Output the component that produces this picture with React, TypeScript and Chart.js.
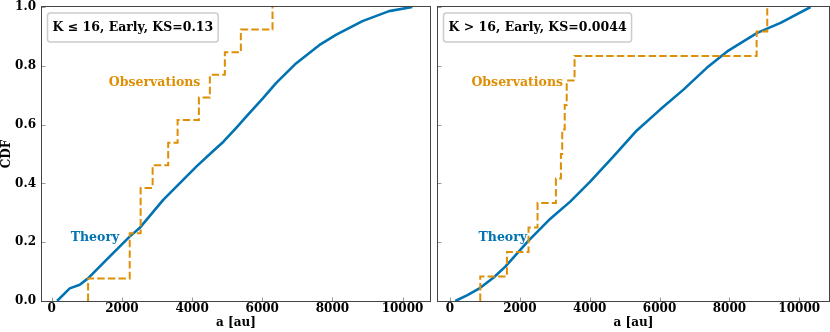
import React, { useEffect, useRef } from 'react';
import { Chart, registerables } from 'chart.js';

Chart.register(...registerables);

// ---------- data ----------
const xTickValues = [0, 2000, 4000, 6000, 8000, 10000];
const yTickValues = [0, 0.2, 0.4, 0.6, 0.8, 1.0];

const theoryLeftA = [151, 512, 797, 1033, 1556, 2219, 2503, 2979, 3177, 3652, 4128, 4601, 4886, 5266, 5550, 6023, 6400, 6962, 7624, 8100, 8857, 9616, 10279];
const theoryLeftCDF = [0, 0.043, 0.055, 0.077, 0.14, 0.219, 0.248, 0.316, 0.344, 0.401, 0.458, 0.51, 0.541, 0.59, 0.628, 0.69, 0.742, 0.808, 0.87, 0.905, 0.952, 0.986, 1.0];
const obsLeftA = [1035, 2222, 2222, 2533, 2533, 2875, 3319, 3587, 4194, 4507, 4934, 5390, 6293];

const theoryRightA = [152, 500, 868, 1250, 1585, 2230, 2874, 3442, 4014, 4682, 5350, 6017, 6685, 7353, 7937, 8797, 9465, 10324];
const theoryRightCDF = [0, 0.02, 0.045, 0.08, 0.117, 0.203, 0.28, 0.338, 0.406, 0.492, 0.58, 0.651, 0.719, 0.793, 0.849, 0.912, 0.946, 1.0];
const obsRightA = [867, 1631, 2249, 2507, 3033, 3176, 3214, 3285, 3342, 3567, 8780, 9084];

const leftXRange = [-279, 10783];
const rightXRange = [-343, 10852];
const boxTexts = ['K \u2264 16, Early, KS=0.13', 'K > 16, Early, KS=0.0044'];
const seriesNames = ['Theory', 'Observations'];
// label anchors in data units [a, cdf]
const leftTheoryLabelAt = [1231, 0.216];
const leftObsLabelAt = [2932, 0.743];
const rightTheoryLabelAt = [1511, 0.215];
const rightObsLabelAt = [1926, 0.743];

// ---------- style ----------
const BLUE = '#0173B2';
const ORANGE = '#DE8F05';
const FAMILY = '"DejaVu Serif", serif';
const FONT = { family: FAMILY, size: 12, weight: 'bold' as const };
const TEXT_SIZE = 12.5;

function stepPoints(a: number[]) {
  const n = a.length;
  const pts: { x: number; y: number }[] = [];
  a.forEach((v, i) => {
    pts.push({ x: v, y: i / n });
    pts.push({ x: v, y: (i + 1) / n });
  });
  return pts;
}

function makeDecor(id: string, boxText: string, theoryAt: number[], obsAt: number[]) {
  return {
    id: 'decor' + id,
    afterDatasetsDraw(chart: any) {
      const { ctx, chartArea } = chart;
      const xs = chart.scales.x;
      const ys = chart.scales.y;
      const { left, right, top, bottom } = chartArea;
      ctx.save();
      // ticks (inward)
      ctx.strokeStyle = '#999999';
      ctx.lineWidth = 1;
      ctx.beginPath();
      xTickValues.forEach((v) => {
        const px = Math.round(xs.getPixelForValue(v)) + 0.5;
        ctx.moveTo(px, bottom);
        ctx.lineTo(px, bottom - 3.5);
      });
      yTickValues.forEach((v) => {
        const py = Math.round(ys.getPixelForValue(v)) + 0.5;
        ctx.moveTo(left, py);
        ctx.lineTo(left + 3.5, py);
      });
      ctx.stroke();
      // frame
      ctx.strokeStyle = '#444444';
      ctx.lineWidth = 1;
      ctx.strokeRect(Math.round(left) - 0.5, Math.round(top) - 0.5, Math.round(right - left) + 1, Math.round(bottom - top) + 1);

      // annotation box
      ctx.font = `bold ${TEXT_SIZE}px ${FAMILY}`;
      const tw = ctx.measureText(boxText).width;
      const bx = left + 5.5;
      const by = top + 6;
      const bw = tw + 10;
      const bh = 29;
      ctx.beginPath();
      ctx.roundRect(bx, by, bw, bh, 3);
      ctx.fillStyle = 'rgba(255,255,255,0.9)';
      ctx.fill();
      ctx.strokeStyle = '#cccccc';
      ctx.lineWidth = 1.5;
      ctx.stroke();
      ctx.fillStyle = '#000000';
      ctx.textAlign = 'left';
      ctx.textBaseline = 'middle';
      ctx.fillText(boxText, bx + 5, by + bh / 2 + 0.5);

      // series labels
      ctx.textAlign = 'center';
      ctx.fillStyle = BLUE;
      ctx.fillText(seriesNames[0], xs.getPixelForValue(theoryAt[0]), ys.getPixelForValue(theoryAt[1]));
      ctx.fillStyle = ORANGE;
      ctx.fillText(seriesNames[1], xs.getPixelForValue(obsAt[0]), ys.getPixelForValue(obsAt[1]));
      ctx.restore();
    },
  };
}

type PanelProps = {
  id: string;
  left: number;
  width: number;
  theoryA: number[];
  theoryCDF: number[];
  obsA: number[];
  xRange: number[];
  boxText: string;
  theoryAt: number[];
  obsAt: number[];
  showY: boolean;
  yAxisWidth: number;
  padRight: number;
};

function Panel(p: PanelProps) {
  const ref = useRef<HTMLCanvasElement>(null);
  useEffect(() => {
    const theoryPts = p.theoryA.map((a, i) => ({ x: a, y: p.theoryCDF[i] }));
    const chart = new Chart(ref.current!, {
      type: 'line',
      data: {
        datasets: [
          {
            label: seriesNames[1],
            data: stepPoints(p.obsA),
            borderColor: ORANGE,
            borderWidth: 2,
            borderDash: [7.4, 3.2],
            pointRadius: 0,
            tension: 0,
            fill: false,
          },
          {
            label: seriesNames[0],
            data: theoryPts,
            borderColor: BLUE,
            borderWidth: 2.6,
            pointRadius: 0,
            tension: 0,
            fill: false,
            borderJoinStyle: 'round',
          },
        ],
      },
      options: {
        animation: false,
        responsive: false,
        maintainAspectRatio: false,
        events: [],
        layout: { padding: { top: 7, right: p.padRight, left: 0, bottom: 0 } },
        plugins: { legend: { display: false }, tooltip: { enabled: false } },
        scales: {
          x: {
            type: 'linear',
            position: 'bottom',
            min: p.xRange[0],
            max: p.xRange[1],
            afterBuildTicks: (s: any) => {
              s.ticks = xTickValues.map((v) => ({ value: v }));
            },
            afterFit: (s: any) => {
              s.height = 31;
              s.paddingLeft = 0;
              s.paddingRight = 0;
            },
            grid: { display: false, drawTicks: false },
            border: { display: false },
            ticks: {
              font: FONT,
              color: '#000000',
              padding: 1,
              maxRotation: 0,
              autoSkip: false,
              callback: (v: any) => String(v),
            },
            title: {
              display: true,
              text: 'a [au]',
              font: FONT,
              color: '#000000',
              padding: { top: 0, bottom: 2 },
            },
          },
          y: {
            type: 'linear',
            min: 0,
            max: 1,
            afterBuildTicks: (s: any) => {
              s.ticks = yTickValues.map((v) => ({ value: v }));
            },
            afterFit: (s: any) => {
              s.width = p.yAxisWidth;
              s.paddingTop = 0;
              s.paddingBottom = 0;
            },
            grid: { display: false, drawTicks: false },
            border: { display: false },
            ticks: {
              display: p.showY,
              font: FONT,
              color: '#000000',
              padding: 6,
              autoSkip: false,
              callback: (v: any) => Number(v).toFixed(1),
            },
            title: {
              display: p.showY,
              text: 'CDF',
              font: FONT,
              color: '#000000',
              padding: { top: 0, bottom: 0 },
            },
          },
        },
      },
      plugins: [makeDecor(p.id, p.boxText, p.theoryAt, p.obsAt)],
    } as any);
    return () => chart.destroy();
  }, []);
  return (
    <canvas
      ref={ref}
      width={p.width}
      height={332}
      style={{ position: 'absolute', left: p.left, top: 0, width: p.width, height: 332 }}
    />
  );
}

export default function App() {
  return (
    <div style={{ position: 'fixed', left: 0, top: 0, width: 830, height: 332, background: '#ffffff', overflow: 'hidden' }}>
      <Panel
        id="L"
        left={0}
        width={435}
        theoryA={theoryLeftA}
        theoryCDF={theoryLeftCDF}
        obsA={obsLeftA}
        xRange={leftXRange}
        boxText={boxTexts[0]}
        theoryAt={leftTheoryLabelAt}
        obsAt={leftObsLabelAt}
        showY={true}
        yAxisWidth={42}
        padRight={5}
      />
      <Panel
        id="R"
        left={435}
        width={395}
        theoryA={theoryRightA}
        theoryCDF={theoryRightCDF}
        obsA={obsRightA}
        xRange={rightXRange}
        boxText={boxTexts[1]}
        theoryAt={rightTheoryLabelAt}
        obsAt={rightObsLabelAt}
        showY={false}
        yAxisWidth={3}
        padRight={1}
      />
    </div>
  );
}
